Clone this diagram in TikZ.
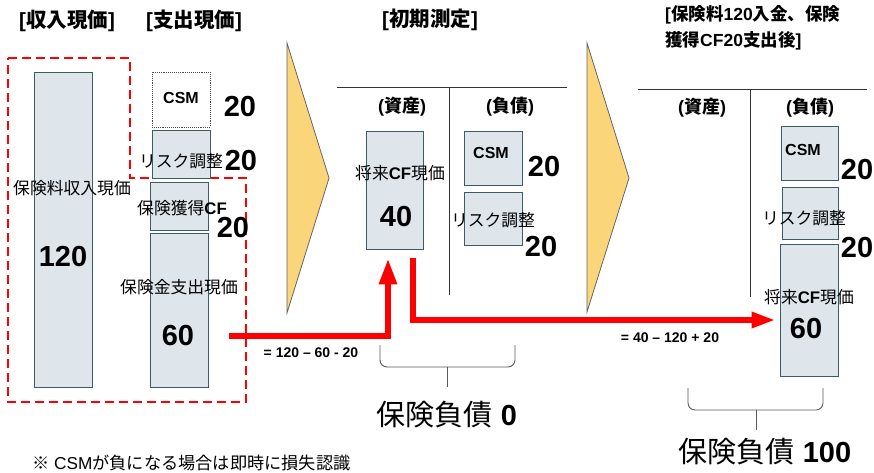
\documentclass[tikz,border=0pt]{standalone}
\usepackage{fontspec}
\setmainfont{Liberation Sans}
\newfontfamily\jp{Noto Sans CJK JP}
\usetikzlibrary{arrows.meta,calc}
\definecolor{boxfill}{RGB}{222,230,236}
\definecolor{boxline}{RGB}{62,92,102}
\definecolor{chev}{RGB}{250,213,122}
\definecolor{redline}{RGB}{255,0,0}
\newcommand\J[1]{{\jp #1}}
\begin{document}
\begin{tikzpicture}[x=1pt,y=-1pt,
  bx/.style={draw=boxline,fill=boxfill,line width=0.9pt,inner sep=0pt},
  lbl/.style={inner sep=0pt,font=\fontsize{16.8}{18}\selectfont},
  big/.style={inner sep=0pt,font=\fontsize{29}{32}\selectfont\bfseries},
  csmt/.style={inner sep=0pt,font=\fontsize{16}{18}\selectfont\bfseries},
  ttl/.style={inner sep=0pt,font=\fontsize{20.5}{22}\selectfont\bfseries},
  side/.style={inner sep=0pt,font=\fontsize{18}{20}\selectfont\bfseries},
  eq/.style={inner sep=0pt,font=\fontsize{14}{16}\selectfont\bfseries},
  liab/.style={inner sep=0pt,font=\fontsize{29}{32}\selectfont},
  redarr/.style={draw=redline,line width=6pt,-{Triangle[width=17pt,length=26pt]}},
  tline/.style={draw=black!80,line width=0.9pt},
  brc/.style={draw=black!65,line width=0.9pt,rounded corners=7pt}]
\useasboundingbox (0,0) rectangle (874,472);

% titles
\node[ttl] (t1) at (67,21) {[\J{収入現価}]};
\node[ttl] (t2) at (194,21) {[\J{支出現価}]};
\node[ttl] (t3) at (430,20) {[\J{初期測定}]};
\node[inner sep=0pt,font=\fontsize{17.5}{26}\selectfont\bfseries,anchor=north west,align=left] (t4) at (665,5)
  {[\J{保険料}120\J{入金、保険}\\\J{獲得}CF20\J{支出後}]};

% red dashed region
\draw[draw=redline,line width=2.5pt,dash pattern=on 9pt off 5pt]
  (8,58) -- (130,58) -- (130,178) -- (246,178) -- (246,402) -- (8,402) -- cycle;

% left boxes
\node[bx,minimum width=58pt,minimum height=315pt] (inc) at (63,229.5) {};
\node[lbl] (incl) at (72,188) {\J{保険料収入現価}};
\node[big] (incv) at (63,257) {120};

\node[draw=black!70,densely dotted,line width=0.9pt,fill=white,minimum width=58pt,minimum height=55pt,inner sep=0pt] (csm1) at (181,99.5) {};
\node[csmt] (csm1l) at (181,98) {CSM};
\node[big] (csm1v) at (240,107) {20};

\node[bx,minimum width=58pt,minimum height=48pt] (ra1) at (181,154) {};
\node[lbl] (ra1l) at (181,161) {\J{リスク調整}};
\node[big] (ra1v) at (241,161) {20};

\node[bx,minimum width=58pt,minimum height=48pt] (acq1) at (179,206) {};
\node[lbl] (acq1l) at (182,208) {\J{保険獲得}\textbf{CF}};
\node[big] (acq1v) at (233,228) {20};

\node[bx,minimum width=58pt,minimum height=154pt] (pay1) at (179,310) {};
\node[lbl] (pay1l) at (179,287) {\J{保険金支出現価}};
\node[big] (pay1v) at (178,336) {60};

% chevrons
\draw[draw=black!60,fill=chev,line width=0.8pt] (287,43) -- (329,178) -- (287,313) -- cycle;
\draw[draw=black!60,fill=chev,line width=0.8pt] (587,43) -- (629,178) -- (587,312) -- cycle;

% T account 1
\draw[tline] (337,87) -- (567,87);
\draw[tline] (449,87) -- (449,295);
\node[side] (as1) at (402,107) {(\J{資産})};
\node[side] (li1) at (510,107) {(\J{負債})};

\node[bx,minimum width=57pt,minimum height=118pt] (fcf2) at (394.5,190) {};
\node[lbl] (fcf2l) at (400,173) {\J{将来}\textbf{CF}\J{現価}};
\node[big] (fcf2v) at (396,217) {40};

\node[bx,minimum width=58pt,minimum height=54pt] (csm2) at (493,158) {};
\node[csmt] (csm2l) at (491,153) {CSM};
\node[big] (csm2v) at (544,167) {20};

\node[bx,minimum width=58pt,minimum height=53pt] (ra2) at (493,218.5) {};
\node[lbl] (ra2l) at (493,220) {\J{リスク調整}};
\node[big] (ra2v) at (541,247) {20};

% T account 2
\draw[tline] (638,89) -- (867,89);
\draw[tline] (750,89) -- (750,297);
\node[side] (as2) at (702,108) {(\J{資産})};
\node[side] (li2) at (810,108) {(\J{負債})};

\node[bx,minimum width=57pt,minimum height=54pt] (csm3) at (809.5,153) {};
\node[csmt] (csm3l) at (803,150) {CSM};
\node[big] (csm3v) at (857,170) {20};

\node[bx,minimum width=56pt,minimum height=52pt] (ra3) at (810,213) {};
\node[lbl] (ra3l) at (804,218) {\J{リスク調整}};
\node[big] (ra3v) at (857,248) {20};

\node[bx,minimum width=58pt,minimum height=132pt] (fcf3) at (809,310) {};
\node[lbl] (fcf3l) at (809,297) {\J{将来}\textbf{CF}\J{現価}};
\node[big] (fcf3v) at (806,329) {60};

% red arrows
\coordinate (a1s) at ($(pay1.east)+(21,26)$);
\coordinate (a1e) at ($(fcf2.south)+(-6.5,9)$);
\draw[redarr] (a1s) -- (a1s -| a1e) -- (a1e);
\coordinate (a2s) at ($(fcf2.south)+(18.5,9)$);
\coordinate (a2e) at ($(fcf3.west)+(-4,10)$);
\draw[redarr,-{Triangle[width=15pt,length=24pt]}] (a2s) -- (a2s |- a2e) -- (a2e);
\node[eq] (eq1) at (311,353) {= 120 -- 60 - 20};
\node[eq] (eq2) at (670,338) {= 40 -- 120 + 20};

% braces
\draw[brc] (380,345) -- (380,367) -- (447,367);
\draw[brc] (515,345) -- (515,367) -- (447,367);
\draw[draw=black!65,line width=0.9pt] (447,367) -- (447,387);
\node[liab] (pl1) at (447,415) {\J{保険負債} \textbf{0}};

\draw[brc] (688,388) -- (688,410) -- (756,410);
\draw[brc] (823,388) -- (823,410) -- (756,410);
\draw[draw=black!65,line width=0.9pt] (756,410) -- (756,430);
\node[liab] (pl2) at (765,452) {\J{保険負債} \textbf{100}};

% footnote
\node[inner sep=0pt,anchor=west,font=\fontsize{17.2}{18}\selectfont] (fn) at (32,463) {\J{※} CSM\J{が負になる場合は即時に損失認識}};
\end{tikzpicture}
\end{document}
